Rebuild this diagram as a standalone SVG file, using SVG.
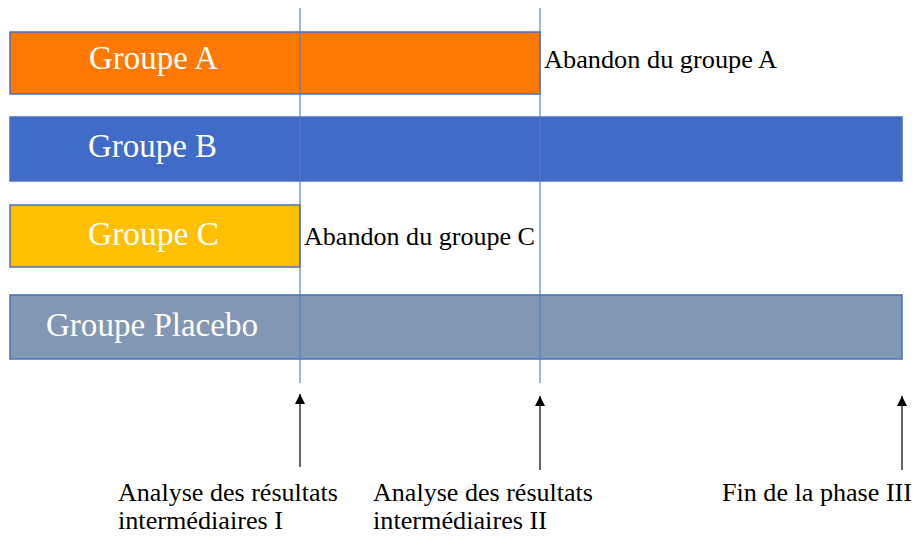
<svg xmlns="http://www.w3.org/2000/svg" width="916" height="537" viewBox="0 0 916 537">
<style>
.bar{stroke:#4A6FC0;stroke-width:1.5}
.lbl{font-family:"Liberation Serif","Times New Roman",serif;font-size:33px;fill:#ffffff}
.txt{font-family:"Liberation Serif","Times New Roman",serif;font-size:26px;fill:#000000}
.vline{stroke:#4F78D0;stroke-width:1.1;fill:none}
.arr{stroke:#000000;stroke-width:1.2;fill:none}
</style>
<defs>
<marker id="ah" viewBox="0 0 10 10" refX="10" refY="5" markerWidth="10" markerHeight="10" markerUnits="userSpaceOnUse" orient="auto">
<path d="M0,0 L10,5 L0,10 Z" fill="#000000"/>
</marker>
</defs>
<rect width="916" height="537" fill="#ffffff"/>
<g id="groupeA">
<rect class="bar" x="10" y="32" width="530" height="62" fill="#FF7800"/>
<text class="lbl" x="89" y="69" textLength="129" lengthAdjust="spacingAndGlyphs">Groupe A</text>
</g>
<g id="groupeB">
<rect class="bar" x="10" y="117" width="892" height="64" fill="#416BC9"/>
<text class="lbl" x="88" y="157" textLength="129" lengthAdjust="spacingAndGlyphs">Groupe B</text>
</g>
<g id="groupeC">
<rect class="bar" x="10" y="205" width="290" height="62" fill="#FFC000"/>
<text class="lbl" x="88" y="245" textLength="131" lengthAdjust="spacingAndGlyphs">Groupe C</text>
</g>
<g id="groupePlacebo">
<rect class="bar" x="10" y="295" width="892" height="64" fill="#8197B3"/>
<text class="lbl" x="46" y="336" textLength="212" lengthAdjust="spacingAndGlyphs">Groupe Placebo</text>
</g>
<g id="connectors">
<line class="vline" x1="300" y1="8" x2="300" y2="383"/>
<line class="vline" x1="540" y1="8" x2="540" y2="383"/>
<line class="arr" x1="300" y1="467" x2="300" y2="394" marker-end="url(#ah)"/>
<line class="arr" x1="540" y1="470" x2="540" y2="396" marker-end="url(#ah)"/>
<line class="arr" x1="902" y1="470" x2="902" y2="396" marker-end="url(#ah)"/>
</g>
<g id="abandonA">
<text class="txt" x="544" y="68" textLength="233" lengthAdjust="spacingAndGlyphs">Abandon du groupe A</text>
</g>
<g id="abandonC">
<text class="txt" x="304" y="245" textLength="231" lengthAdjust="spacingAndGlyphs">Abandon du groupe C</text>
</g>
<g id="analyse1">
<text class="txt" x="118" y="501" textLength="220" lengthAdjust="spacingAndGlyphs">Analyse des résultats</text>
<text class="txt" x="118" y="529" textLength="165" lengthAdjust="spacingAndGlyphs">intermédiaires I</text>
</g>
<g id="analyse2">
<text class="txt" x="373" y="501" textLength="220" lengthAdjust="spacingAndGlyphs">Analyse des résultats</text>
<text class="txt" x="373" y="529" textLength="174" lengthAdjust="spacingAndGlyphs">intermédiaires II</text>
</g>
<g id="finPhase">
<text class="txt" x="722" y="501" textLength="190" lengthAdjust="spacingAndGlyphs">Fin de la phase III</text>
</g>
</svg>
